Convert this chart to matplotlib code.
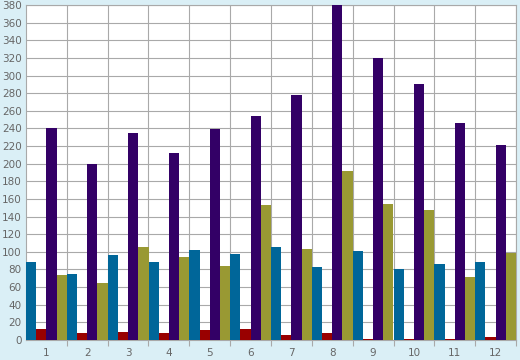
import numpy as np
import matplotlib.pyplot as plt

# values
months = ['1', '2', '3', '4', '5', '6', '7', '8', '9', '10', '11', '12']
blue   = [88, 75, 96, 88, 102, 98, 106, 83, 101, 80, 86, 89]
red    = [12, 8, 9, 8, 11, 12, 6, 8, 1.5, 1.5, 1.5, 3.5]
purple = [240, 200, 235, 212, 239, 254, 278, 380, 320, 290, 246, 221]
olive  = [74, 65, 105, 94, 84, 153, 103, 192, 154, 148, 71, 99]

colors = ['#006699', '#990000', '#330066', '#999933']
bg = '#daeff6'
grid = '#a9a9a9'
txt = '#666666'

fig = plt.figure(figsize=(5.2, 3.6), dpi=100, facecolor=bg)
ax = fig.add_axes([26/520, 20/360, 490/520, 335/360])

x = np.arange(len(months))
w = 0.25
for k, vals in enumerate([blue, red, purple, olive]):
    ax.bar(x + (k - 1.5) * w, vals, width=w, color=colors[k], zorder=3, linewidth=0)

ax.set_xlim(-0.5, len(months) - 0.5)
ax.set_ylim(0, 380)
ax.set_yticks(np.arange(0, 381, 20))
ax.set_xticks(np.arange(0.5, len(months), 1))
ax.set_xticklabels([])
ax.set_xticks(x, minor=True)
ax.set_xticklabels(months, minor=True)

ax.grid(True, color=grid, linewidth=0.8, zorder=0)
for s in ax.spines.values():
    s.set_color(grid)
    s.set_linewidth(0.8)

ax.tick_params(axis='y', length=0, pad=3, labelsize=7.5, labelcolor=txt)
ax.tick_params(axis='x', which='major', length=4, color=grid, width=0.8)
ax.tick_params(axis='x', which='minor', length=0, pad=6, labelsize=7.5, labelcolor=txt)

fig.savefig('out.png', dpi=100, facecolor=bg)
